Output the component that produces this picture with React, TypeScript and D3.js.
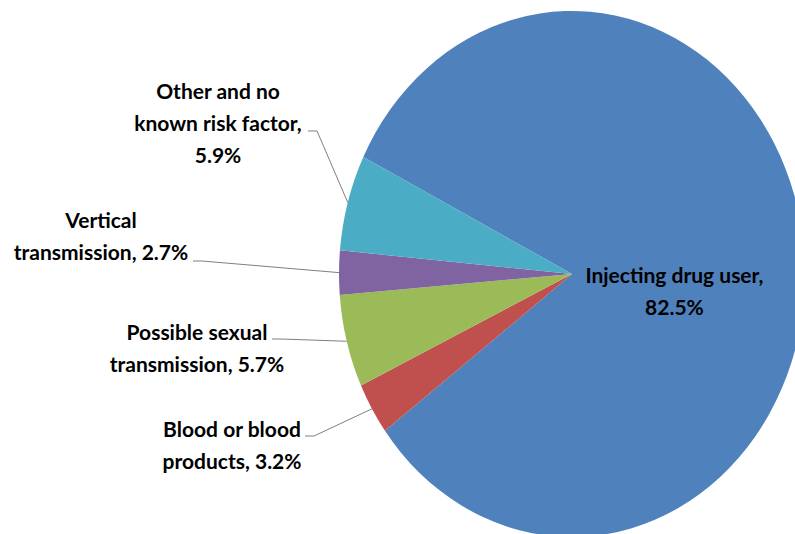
import React, { useRef, useEffect } from "react";
import * as d3 from "d3";

// slices in Excel order (clockwise from the first slice's start angle)
const categories = [
  "Injecting drug user",
  "Blood or blood products",
  "Possible sexual transmission",
  "Vertical transmission",
  "Other and no known risk factor",
];
const values = [82.5, 3.2, 5.7, 2.7, 5.9];
const colors = ["#4F81BD", "#C0504D", "#9BBB59", "#8064A2", "#4BACC6"];
const labelLines = [
  ["Injecting drug user,", "82.5%"],
  ["Blood or blood", "products, 3.2%"],
  ["Possible sexual", "transmission, 5.7%"],
  ["Vertical", "transmission, 2.7%"],
  ["Other and no", "known risk factor,", "5.9%"],
];

// layout for the outside labels: text centre x, first line y, leader start
const outsideLabels: Record<number, { x: number; y: number; lx: number; ly: number }> = {
  1: { x: 232, y: 430, lx: 305, ly: 436 },
  2: { x: 197, y: 333, lx: 272, ly: 339 },
  3: { x: 101, y: 221, lx: 193, ly: 261 },
  4: { x: 218, y: 92, lx: 308, ly: 131 },
};

const W = 795;
const H = 534;
const cx = 572;
const cy = 274;
const rx = 233;
const ry = 263;
const lineH = 32;

function App() {
  const ref = useRef<SVGSVGElement>(null);

  useEffect(() => {
    const svg = d3.select(ref.current);
    svg.selectAll("*").remove();

    const start = (296.4 * Math.PI) / 180;
    const pie = d3
      .pie<number>()
      .sort(null)
      .value((d) => d)
      .startAngle(start)
      .endAngle(start + 2 * Math.PI);
    const arcs = pie(values);

    const arc = d3.arc<d3.PieArcDatum<number>>().innerRadius(0).outerRadius(rx);
    const sy = ry / rx;

    svg
      .append("g")
      .attr("transform", `translate(${cx},${cy}) scale(1,${sy})`)
      .selectAll("path")
      .data(arcs)
      .join("path")
      .attr("d", arc)
      .attr("fill", (_, i) => colors[i]);

    const font = "Lato, 'Open Sans', sans-serif";

    // leader lines
    const edge = d3.arc<d3.PieArcDatum<number>>().innerRadius(rx).outerRadius(rx);
    arcs.forEach((a, i) => {
      const pos = outsideLabels[i];
      if (!pos) return;
      const [ex, ey] = edge.centroid(a);
      svg
        .append("path")
        .attr("d", `M${pos.lx},${pos.ly}h9L${cx + ex},${cy + ey * sy}`)
        .attr("fill", "none")
        .attr("stroke", "#7f7f7f")
        .attr("stroke-width", 1);
    });

    // labels
    arcs.forEach((a, i) => {
      let x: number;
      let y: number;
      const pos = outsideLabels[i];
      if (pos) {
        x = pos.x;
        y = pos.y;
      } else {
        const inner = d3.arc<d3.PieArcDatum<number>>().innerRadius(0).outerRadius(rx * 0.9);
        const [ix, iy] = inner.centroid(a);
        x = cx + ix - 2;
        y = cy + iy * sy + 12;
      }
      const t = svg
        .append("text")
        .attr("text-anchor", "middle")
        .attr("font-family", font)
        .attr("font-weight", 700)
        .attr("font-size", 21)
        .attr("fill", "#000");
      labelLines[i].forEach((line, k) => {
        t.append("tspan")
          .attr("x", x)
          .attr("y", y + k * lineH)
          .attr("dy", "0.35em")
          .text(line);
      });
    });
  }, []);

  return (
    <svg
      ref={ref}
      width={W}
      height={H}
      style={{ position: "absolute", left: 0, top: 0, background: "#fff" }}
    ></svg>
  );
}

export default App;
